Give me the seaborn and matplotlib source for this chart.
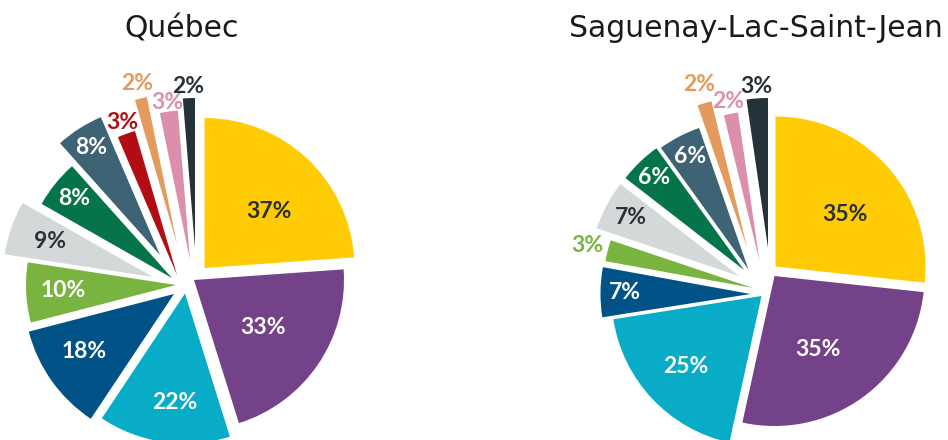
import numpy as np
import matplotlib
matplotlib.use("Agg")
import matplotlib.pyplot as plt
import seaborn as sns

# --- data ---
titles = ["Québec", "Saguenay-Lac-Saint-Jean"]

qc_categories = ["yellow", "purple", "teal", "blue", "green", "grey",
                 "darkgreen", "slate", "red", "orange", "pink", "dark"]
qc_values = [37, 33, 22, 18, 10, 9, 8, 8, 3, 2, 3, 2]

slsj_categories = ["yellow", "purple", "teal", "blue", "green", "grey",
                   "darkgreen", "slate", "orange", "pink", "dark"]
slsj_values = [35, 35, 25, 7, 3, 7, 6, 6, 2, 2, 3]

# --- style ---
palette = {
    "yellow": "#FFCB05", "purple": "#744288", "teal": "#08ACC7",
    "blue": "#005287", "green": "#7AB440", "grey": "#D5D8D9",
    "darkgreen": "#06744A", "slate": "#3D6374", "red": "#B40C13",
    "orange": "#E39A5C", "pink": "#DB8FAC", "dark": "#263239",
}
dark_text = "#2A3137"
light_slices = {"yellow", "grey"}

RADIUS = 150
# pie centre (pixels, y up) and per-slice shift of each wedge (pixels)
qc_center = (185, 162)
qc_shift = [(19.5, 10), (9, -2), (0, -15.5), (-11, -16), (-9, -7), (-32, 1),
            (-13, 0), (-25, 23), (-8, 3), (-8, 34), (5, 18), (10, 30)]
qc_labr = [0.57, 0.56, 0.73, 0.71, 0.75, 0.73, 0.84, 0.85, 1.08, 1.1, 1.06, 1.08]
qc_laba = [-6, 0, 3, -3, 0, 0, 0, 0, 0, 0, 0, 0]  # small angle nudge of labels
qc_outside = [False] * 8 + [True] * 4

slsj_center = (760, 165)
slsj_shift = [(15.5, 8.5), (14.5, -1), (1.5, -21), (-9.5, -19), (-7, -13),
              (-21, -1), (-16, 5), (-11.5, 5.4), (-13, 28), (-0.5, 14), (8, 27)]
slsj_labr = [0.58, 0.57, 0.69, 0.84, 1.14, 0.82, 0.86, 0.85, 1.13, 1.08, 1.08]
slsj_laba = [-5, -5, 0, 0, 0, 0, 0, 0, 0, 0, 0]
slsj_outside = [False] * 4 + [True] + [False] * 3 + [True] * 3

sns.set_theme(style="white")
plt.rcParams["font.family"] = ["Lato", "DejaVu Sans"]

fig = plt.figure(figsize=(9.48, 4.4), dpi=100)
ax = fig.add_axes([0, 0, 1, 1])


def draw_pie(values, cats, center, shifts, labr, laba, outside):
    colors = sns.color_palette([palette[c] for c in cats])
    wedges, _ = ax.pie(values, colors=colors, startangle=90, counterclock=False,
                       radius=RADIUS, center=center,
                       wedgeprops=dict(linewidth=0))
    for w, v, c, (dx, dy), f, da, out in zip(wedges, values, cats, shifts,
                                             labr, laba, outside):
        cx, cy = center[0] + dx, center[1] + dy
        w.set_center((cx, cy))
        mid = np.deg2rad((w.theta1 + w.theta2) / 2 + da)
        tx = cx + f * RADIUS * np.cos(mid)
        ty = cy + f * RADIUS * np.sin(mid)
        if out:
            col = palette[c]
        elif c in light_slices:
            col = dark_text
        else:
            col = "white"
        ax.text(tx, ty, f"{v}%", ha="center", va="center", color=col,
                fontsize=16.5, fontweight="bold")


draw_pie(qc_values, qc_categories, qc_center, qc_shift, qc_labr, qc_laba, qc_outside)
draw_pie(slsj_values, slsj_categories, slsj_center, slsj_shift, slsj_labr,
         slsj_laba, slsj_outside)

for x, t in zip([182, 756], titles):
    ax.text(x, 403, t, ha="center", va="baseline", fontsize=21.5,
            fontweight="normal", color="#1a1a1a", family="DejaVu Sans")

ax.set_xlim(0, 948)
ax.set_ylim(0, 440)
ax.set_aspect("equal")
ax.axis("off")

fig.savefig("out.png", dpi=100)
plt.close(fig)
